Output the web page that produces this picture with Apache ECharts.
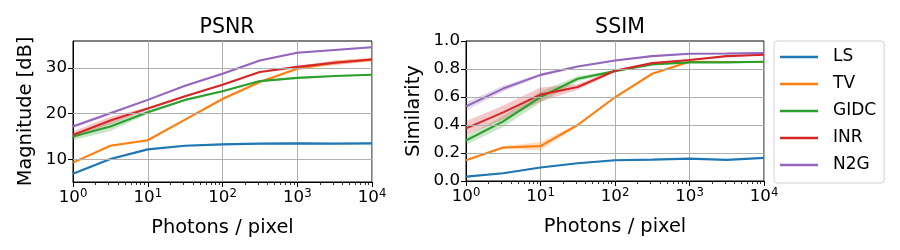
<!DOCTYPE html>
<html><head><meta charset="utf-8">
<script src="https://cdn.jsdelivr.net/npm/echarts@6/dist/echarts.min.js"></script>
<style>html,body{margin:0;padding:0;background:#fff}#c{width:900px;height:250px}</style>
</head><body><div id="c"></div>
<script>
const photons = [1, 3.16, 10, 31.6, 100, 316, 1000, 3162, 10000];
const methods = ['LS', 'TV', 'GIDC', 'INR', 'N2G'];
const colors = ['#1f77b4', '#ff7f0e', '#2ca02c', '#d62728', '#9467bd'];

const psnrLS   = [6.9, 10.1, 12.2, 13.0, 13.3, 13.45, 13.5, 13.45, 13.5];
const psnrTV   = [9.3, 13.0, 14.2, 18.7, 23.2, 26.9, 29.8, 31.1, 31.8];
const psnrGIDC = [15.0, 17.2, 20.3, 23.0, 24.9, 27.1, 27.8, 28.2, 28.5];
const psnrINR  = [15.35, 18.5, 21.1, 23.8, 26.3, 29.1, 30.2, 31.1, 31.8];
const psnrN2G  = [17.2, 20.1, 23.0, 26.1, 28.7, 31.6, 33.3, 33.9, 34.5];

const psnrStdLS   = [0.2, 0.2, 0.2, 0.2, 0.2, 0.2, 0.2, 0.2, 0.2];
const psnrStdTV   = [0.2, 0.2, 0.2, 0.2, 0.2, 0.2, 0.3, 0.5, 0.4];
const psnrStdGIDC = [0.8, 1.0, 0.4, 0.2, 0.2, 0.2, 0.2, 0.2, 0.2];
const psnrStdINR  = [0.8, 0.8, 0.3, 0.2, 0.2, 0.2, 0.2, 0.5, 0.3];
const psnrStdN2G  = [0.4, 0.3, 0.2, 0.2, 0.2, 0.2, 0.2, 0.2, 0.2];

const ssimLS   = [0.031, 0.055, 0.096, 0.127, 0.148, 0.153, 0.160, 0.151, 0.165];
const ssimTV   = [0.148, 0.239, 0.249, 0.40, 0.598, 0.766, 0.852, 0.850, 0.850];
const ssimGIDC = [0.289, 0.426, 0.60, 0.73, 0.785, 0.833, 0.847, 0.847, 0.852];
const ssimINR  = [0.376, 0.49, 0.617, 0.672, 0.787, 0.842, 0.864, 0.892, 0.902];
const ssimN2G  = [0.533, 0.66, 0.758, 0.818, 0.861, 0.892, 0.909, 0.911, 0.914];

const ssimStdLS   = [0.005, 0.005, 0.005, 0.005, 0.005, 0.005, 0.005, 0.005, 0.005];
const ssimStdTV   = [0.005, 0.01, 0.03, 0.01, 0.005, 0.005, 0.005, 0.005, 0.005];
const ssimStdGIDC = [0.03, 0.04, 0.04, 0.02, 0.005, 0.005, 0.005, 0.005, 0.005];
const ssimStdINR  = [0.05, 0.05, 0.05, 0.02, 0.01, 0.005, 0.005, 0.005, 0.005];
const ssimStdN2G  = [0.03, 0.02, 0.01, 0.005, 0.005, 0.005, 0.005, 0.005, 0.005];

const xTicks = [1, 10, 100, 1000, 10000];
const xMinorTicks = [2, 3, 4, 5, 6, 7, 8, 9, 20, 30, 40, 50, 60, 70, 80, 90,
  200, 300, 400, 500, 600, 700, 800, 900, 2000, 3000, 4000, 5000, 6000, 7000, 8000, 9000];
const psnrTicks = [10, 20, 30];
const ssimTicks = [0.0, 0.2, 0.4, 0.6, 0.8, 1.0];

const FONT = 'DejaVu Sans';
const TICK = 16.7, LABEL = 19.4;
const psnrVals = [psnrLS, psnrTV, psnrGIDC, psnrINR, psnrN2G];
const psnrStds = [psnrStdLS, psnrStdTV, psnrStdGIDC, psnrStdINR, psnrStdN2G];
const ssimVals = [ssimLS, ssimTV, ssimGIDC, ssimINR, ssimN2G];
const ssimStds = [ssimStdLS, ssimStdTV, ssimStdGIDC, ssimStdINR, ssimStdN2G];

function xAxis(gi) {
  return {
    type: 'log', logBase: 10, gridIndex: gi, min: 1, max: 10000,
    name: 'Photons / pixel', nameLocation: 'middle', nameGap: 36,
    nameTextStyle: { fontFamily: FONT, fontSize: LABEL, color: '#000' },
    axisLine: { show: true, onZero: false, lineStyle: { color: '#000', width: 1 } },
    axisTick: { show: true, inside: false, length: 5, customValues: xTicks, lineStyle: { color: '#000' } },
    minorTick: { show: false },
    axisLabel: {
      fontFamily: FONT, color: '#000', margin: 6, customValues: xTicks,
      formatter: v => '{b|10}{s|' + Math.round(Math.log10(v)) + '}',
      rich: { b: { fontSize: TICK, fontFamily: FONT, color: '#000' },
              s: { fontSize: 11.7, fontFamily: FONT, color: '#000', verticalAlign: 'top', padding: [0, 0, 8, 0] } }
    },
    splitLine: { show: true, lineStyle: { color: '#b0b0b0', width: 1 } }
  };
}
function xMinorAxis(gi) {
  return {
    type: 'log', logBase: 10, gridIndex: gi, min: 1, max: 10000, position: 'bottom',
    axisLine: { show: false, onZero: false },
    axisTick: { show: true, inside: false, length: 3, customValues: xMinorTicks, lineStyle: { color: '#000', width: 0.8 } },
    axisLabel: { show: false },
    splitLine: { show: false }
  };
}

function yAxis(gi, min, max, ticks, name, fmt, gap) {
  return {
    type: 'value', gridIndex: gi, min: min, max: max,
    name: name, nameLocation: 'middle', nameGap: gap,
    nameTextStyle: { fontFamily: FONT, fontSize: LABEL, color: '#000' },
    axisLine: { show: true, lineStyle: { color: '#000', width: 1 } },
    axisTick: { show: true, length: 5, customValues: ticks, lineStyle: { color: '#000' } },
    axisLabel: { fontFamily: FONT, fontSize: TICK, color: '#000', customValues: ticks, formatter: fmt, margin: 6 },
    splitLine: { show: false }
  };
}

function bandItem(vals, stds) {
  const item = [];
  photons.forEach((p, k) => { item.push(p, vals[k] - stds[k], vals[k] + stds[k]); });
  return item;
}

const series = [];
function addPanel(gi, vals, stds, gridVals) {
  series.push({
    type: 'line', xAxisIndex: gi, yAxisIndex: gi, data: [], silent: true, z: 0,
    markLine: { silent: true, symbol: 'none', label: { show: false }, animation: false,
      lineStyle: { color: '#b0b0b0', width: 1, type: 'solid' },
      data: gridVals.map(y => ({ yAxis: y })) }
  });
  vals.forEach((v, i) => {
    series.push({
      type: 'custom', xAxisIndex: gi, yAxisIndex: gi, silent: true, z: 1,
      encode: { x: 0, y: 1 },
      data: [bandItem(v, stds[i])],
      renderItem: (params, api) => {
        const n = photons.length, up = [], lo = [];
        for (let k = 0; k < n; k++) {
          lo.push(api.coord([api.value(3 * k), api.value(3 * k + 1)]));
          up.push(api.coord([api.value(3 * k), api.value(3 * k + 2)]));
        }
        return { type: 'polygon', shape: { points: lo.concat(up.reverse()) },
                 style: { fill: colors[i], opacity: 0.25 } };
      }
    });
  });
  vals.forEach((v, i) => {
    series.push({
      name: methods[i], type: 'line', xAxisIndex: gi, yAxisIndex: gi, symbol: 'none',
      color: colors[i], lineStyle: { color: colors[i], width: 2.1 }, z: 3,
      data: photons.map((p, k) => [p, v[k]])
    });
  });
}
addPanel(0, psnrVals, psnrStds, psnrTicks);
addPanel(1, ssimVals, ssimStds, ssimTicks.slice(1, 5));

const option = {
  animation: false,
  color: colors,
  title: [
    { text: 'PSNR', left: 222, top: 12, textAlign: 'center', textStyle: { fontFamily: FONT, fontSize: 20.5, fontWeight: 'normal', color: '#000' } },
    { text: 'SSIM', left: 615, top: 12, textAlign: 'center', textStyle: { fontFamily: FONT, fontSize: 20.5, fontWeight: 'normal', color: '#000' } }
  ],
  grid: [
    { left: 73, right: 528, top: 41, bottom: 68, show: true, borderColor: '#000', borderWidth: 1, backgroundColor: 'transparent' },
    { left: 466, right: 136, top: 41, bottom: 69, show: true, borderColor: '#000', borderWidth: 1, backgroundColor: 'transparent' }
  ],
  xAxis: [xAxis(0), xAxis(1), xMinorAxis(0), xMinorAxis(1)],
  yAxis: [
    yAxis(0, 5.08, 35.85, psnrTicks, 'Magnitude [dB]', v => String(v), 38),
    yAxis(1, 0, 1, ssimTicks, 'Similarity', v => v.toFixed(1), 43)
  ],
  legend: {
    data: methods, orient: 'vertical', left: 774, top: 41,
    itemWidth: 38, itemHeight: 2.5, itemGap: 7,
    padding: [6, 8, 8, 6],
    borderColor: '#d0d0d0', borderWidth: 1, borderRadius: 3,
    icon: 'rect',
    textStyle: { fontFamily: FONT, fontSize: 17, lineHeight: 20, color: '#000', padding: [0, 0, 0, 10] }
  },
  series: series
};
const chart = echarts.init(document.getElementById('c'), null, { renderer: 'canvas' });
chart.setOption(option);
</script></body></html>
